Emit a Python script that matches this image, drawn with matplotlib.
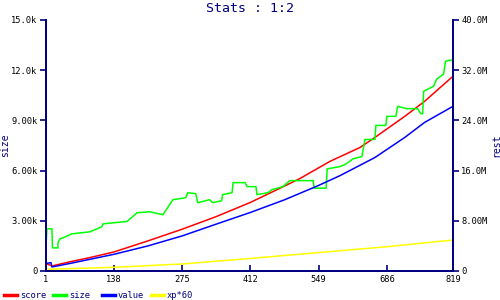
import matplotlib
matplotlib.use("Agg")
import matplotlib.pyplot as plt
from matplotlib.lines import Line2D

plt.rcParams['font.family'] = ['DejaVu Sans Mono']

NAVY = "#000080"

# --- data (values in thousands) ---
score_x = [1, 13, 49, 89, 138, 206, 275, 343, 412, 461, 511, 571, 632, 662, 722, 762, 819]
score_y = [0.45, 0.30, 0.55, 0.80, 1.14, 1.80, 2.50, 3.25, 4.10, 4.80, 5.52, 6.54, 7.38, 7.98, 9.24, 10.14, 11.64]

value_x = [1, 11, 13, 49, 138, 206, 275, 343, 412, 480, 548, 592, 662, 722, 762, 819]
value_y = [0.45, 0.50, 0.24, 0.45, 1.00, 1.50, 2.10, 2.80, 3.50, 4.25, 5.10, 5.70, 6.78, 7.98, 8.88, 9.84]

size_x = [1, 3, 13, 14, 25, 25, 29, 35, 53, 89, 113, 116, 164, 184, 210, 236, 256,
          282, 286, 302, 306, 330, 336, 354, 356, 375, 377, 401, 405, 423, 425, 447,
          455, 477, 491, 511, 538, 540, 564, 566, 592, 602, 618, 636, 642, 662, 664,
          684, 686, 704, 708, 726, 748, 754, 758, 760, 780, 786, 800, 804, 819]
size_y = [1.50, 2.52, 2.52, 1.38, 1.38, 1.68, 1.92, 1.98, 2.22, 2.34, 2.64, 2.82, 2.96, 3.48, 3.54, 3.36, 4.26,
          4.38, 4.68, 4.62, 4.08, 4.26, 4.08, 4.20, 4.56, 4.68, 5.28, 5.28, 5.04, 5.04, 4.56, 4.68,
          4.86, 5.04, 5.40, 5.40, 5.40, 4.95, 4.95, 6.10, 6.24, 6.36, 6.70, 6.84, 7.86, 7.86, 8.70,
          8.70, 9.24, 9.24, 9.84, 9.70, 9.70, 9.40, 9.40, 10.74, 11.04, 11.46, 11.76, 12.54, 12.62]

xp_x = [1, 138, 275, 412, 549, 686, 819]
xp_y = [0.10, 0.22, 0.42, 0.75, 1.10, 1.45, 1.85]

x_ticks = [1, 138, 275, 412, 549, 686, 819]
left_ticks = [0, 3, 6, 9, 12, 15]
left_labels = ["0", "3.00k", "6.00k", "9.00k", "12.0k", "15.0k"]
right_ticks = [0, 8, 16, 24, 32, 40]
right_labels = ["0", "8.00M", "16.0M", "24.0M", "32.0M", "40.0M"]

series = [("score", "#ff0000", score_x, score_y),
          ("size", "#00ff00", size_x, size_y),
          ("value", "#0000ff", value_x, value_y),
          ("xp*60", "#ffff00", xp_x, xp_y)]

fig = plt.figure(figsize=(5, 3), dpi=100)
ax = fig.add_axes([0.092, 0.0967, 0.814, 0.8367])

for name, col, xs, ys in series:
    ax.plot(xs, ys, color=col, lw=1.1, label=name)

ax.set_xlim(1, 819)
ax.set_ylim(0, 15)
ax.set_xticks(x_ticks)
ax.set_xticklabels([str(t) for t in x_ticks])
ax.set_yticks(left_ticks)
ax.set_yticklabels(left_labels)

ax2 = ax.twinx()
ax2.set_ylim(0, 40)
ax2.set_yticks(right_ticks)
ax2.set_yticklabels(right_labels)

for a in (ax, ax2):
    for s in a.spines.values():
        s.set_color(NAVY)
        s.set_linewidth(1.3)
    a.spines["top"].set_visible(False)
ax.tick_params(axis="y", direction="out", length=4, color=NAVY, width=1.2, labelsize=6.3, pad=2)
ax.tick_params(axis="x", direction="in", length=4, color=NAVY, width=1.2, labelsize=6.3, pad=3)
ax2.tick_params(axis="y", direction="out", length=4, color=NAVY, width=1.2, labelsize=6.3, pad=2)

ax.set_ylabel("size", color=NAVY, fontsize=7)
ax.yaxis.set_label_coords(-0.088, 0.5)
ax2.set_ylabel("rest", color=NAVY, fontsize=7, rotation=90)
ax2.yaxis.set_label_coords(1.094, 0.5)
fig.suptitle("Stats : 1:2", color=NAVY, fontsize=9.5, y=0.995)

# legend along the bottom, fixed pitch like the original
W, H = 500.0, 300.0
for k, (name, col, _, _) in enumerate(series):
    x0 = 4 + 49 * k
    fig.add_artist(Line2D([x0 / W, (x0 + 13) / W], [1 - 295 / H] * 2,
                          color=col, lw=2.5, transform=fig.transFigure))
    fig.text((x0 + 16) / W, 1 - 295 / H, name, color=NAVY, fontsize=6.3,
             ha="left", va="center")

fig.savefig("out.png", dpi=100)
